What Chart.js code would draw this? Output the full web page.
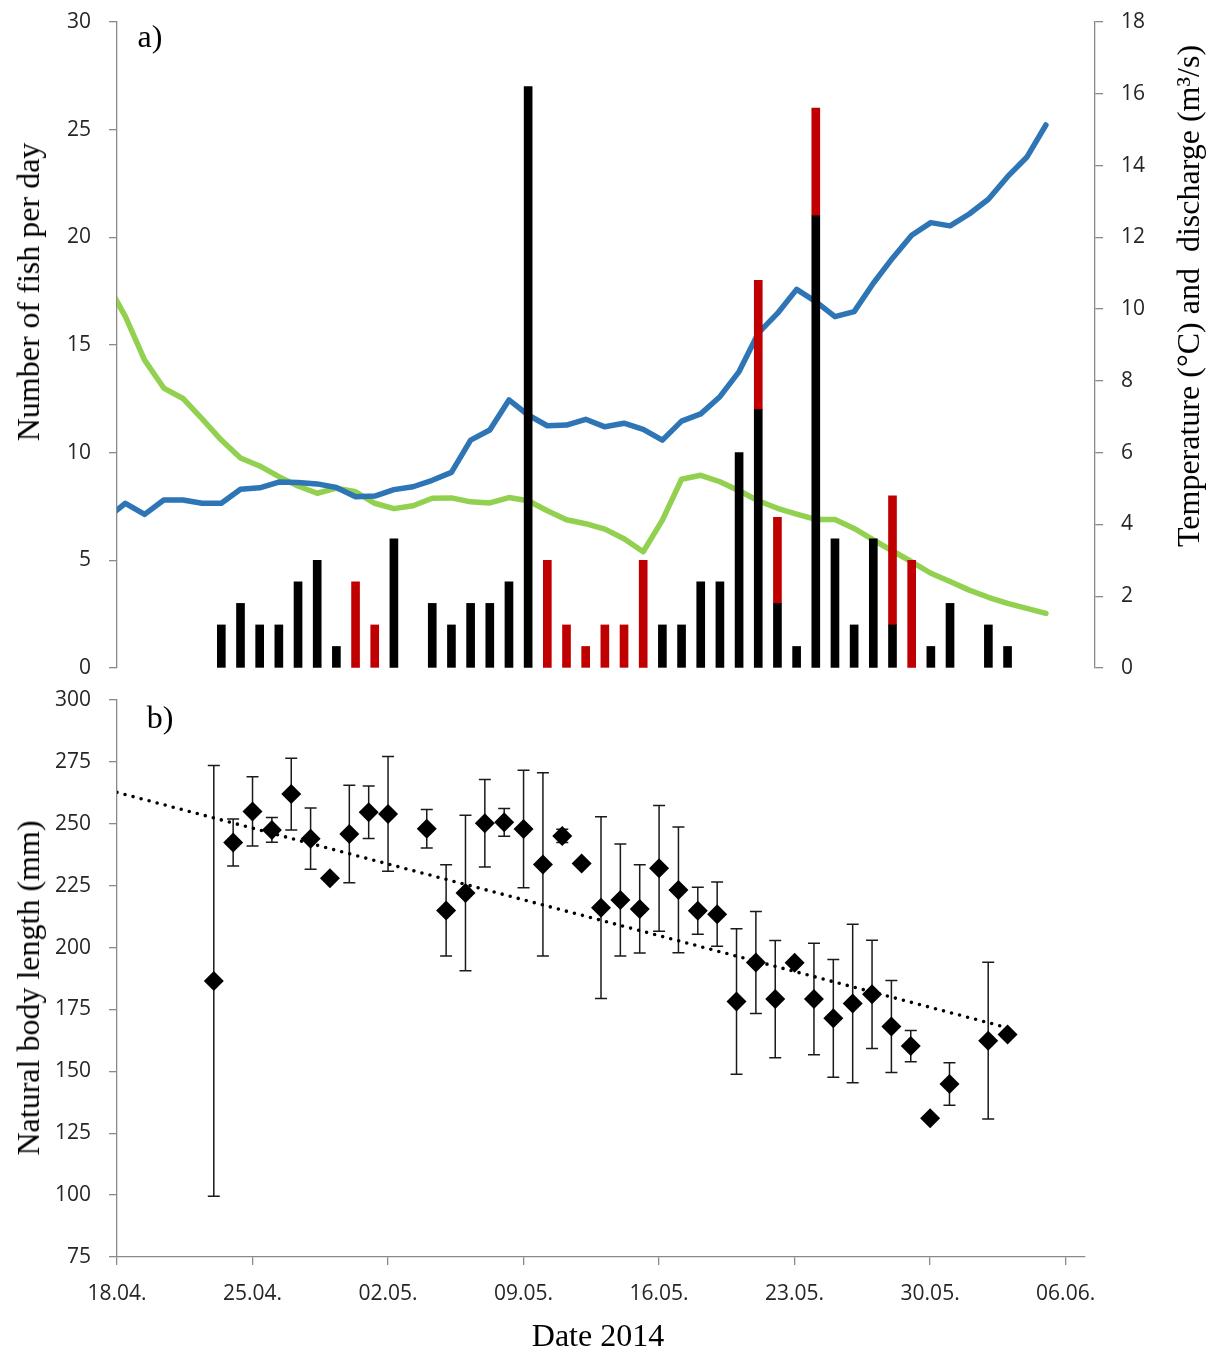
<!DOCTYPE html>
<html lang="en">
<head>
<meta charset="UTF-8">
<title>Fish per day and body length 2014</title>
<script src="https://cdn.jsdelivr.net/npm/chart.js"></script>
<style>
  body { margin: 0; background: #fff; }
  .wrap { position: relative; width: 1209px; height: 1349px; overflow: hidden; }
  canvas { position: absolute; left: 0; }
  #chartA { top: 0; }
  #chartB { top: 680px; }
  .lbl {
    position: absolute;
    font-family: "Liberation Serif", "Times New Roman", serif;
    font-size: 32px;
    line-height: 1;
    color: #000;
    white-space: nowrap;
    transform: translate(-50%, -50%);
  }
  .rot { transform: translate(-50%, -50%) rotate(-90deg); }
</style>
</head>
<body>
<div class="wrap">
  <canvas id="chartA" width="1209" height="680"></canvas>
  <canvas id="chartB" width="1209" height="669"></canvas>

  <div class="lbl" style="left:150px; top:36px;">a)</div>
  <div class="lbl" style="left:160px; top:717px;">b)</div>
  <div class="lbl rot" style="left:28px; top:292px;">Number of fish per day</div>
  <div class="lbl rot" style="left:1188px; top:296px;">Temperature (°C) and&nbsp; discharge (m³/s)</div>
  <div class="lbl rot" style="left:28px; top:988px;">Natural body length (mm)</div>
  <div class="lbl" style="left:598px; top:1335px;">Date 2014</div>
</div>

<script>
// ---- panel a: fish per day, temperature, discharge ----
// day index 0 = 18.04.2014
const lineStartDay = -1;   // 17.04.
const temperature = [4.17, 4.59, 4.28, 4.68, 4.68, 4.59, 4.59, 4.98, 5.02, 5.18,
  5.17, 5.13, 5.03, 4.77, 4.79, 4.97, 5.05, 5.23, 5.45, 6.35,
  6.63, 7.47, 7.05, 6.75, 6.77, 6.93, 6.72, 6.82, 6.65, 6.35,
  6.88, 7.08, 7.56, 8.26, 9.33, 9.88, 10.55, 10.21, 9.79, 9.93,
  10.72, 11.42, 12.06, 12.41, 12.32, 12.65, 13.06, 13.69, 14.23, 15.13];
const discharge = [10.75, 9.79, 8.58, 7.80, 7.51, 6.94, 6.35, 5.85, 5.63, 5.33,
  5.07, 4.87, 5.01, 4.91, 4.59, 4.44, 4.52, 4.73, 4.74, 4.63,
  4.60, 4.75, 4.66, 4.38, 4.13, 4.02, 3.87, 3.60, 3.24, 4.12,
  5.26, 5.37, 5.19, 4.94, 4.66, 4.45, 4.29, 4.14, 4.14, 3.89,
  3.57, 3.26, 2.96, 2.64, 2.41, 2.17, 1.97, 1.80, 1.66, 1.52];

const barStartDay = 5;     // 23.04.
const fishBlack = [2, 3, 2, 2, 4, 5, 1, 0, 0, 6, 0, 3, 2, 3, 3, 4, 27, 0, 0, 0,
  0, 0, 0, 2, 2, 4, 4, 10, 12, 3, 1, 21, 6, 2, 6, 2, 0, 1, 3, 0, 2, 1];
const fishRed = [0, 0, 0, 0, 0, 0, 0, 4, 2, 0, 0, 0, 0, 0, 0, 0, 0, 5, 2, 1,
  2, 2, 5, 0, 0, 0, 0, 0, 6, 4, 0, 5, 0, 0, 0, 6, 5, 0, 0, 0, 0, 0];

// ---- panel b: natural body length ----
const lenDays = [5, 6, 7, 8, 9, 10, 11, 12, 13, 14, 16, 17, 18, 19, 20, 21, 22, 23, 24, 25,
  26, 27, 28, 29, 30, 31, 32, 33, 34, 35, 36, 37, 38, 39, 40, 41, 42, 43, 45, 46];
const lenMean = [186.5, 242.4, 255.0, 247.5, 262.0, 244.0, 228.0, 245.9, 254.7, 254.0,
  248.0, 215.0, 222.0, 250.2, 250.6, 247.9, 233.6, 245.1, 234.0, 216.1,
  219.2, 215.6, 232.0, 223.3, 214.9, 213.5, 178.2, 194.0, 179.2, 193.9,
  179.2, 171.4, 177.4, 181.1, 168.1, 160.2, 131.0, 144.9, 162.4, 164.9];
const lenSd = [87, 9.5, 14, 5, 14.5, 12.4, 0, 19.7, 10.6, 23.2,
  7.8, 18.4, 31.4, 17.7, 5.6, 23.7, 37, 2.7, 0, 36.7,
  22.6, 17.8, 25.4, 25.4, 9.5, 13, 29.4, 20.6, 23.7, 0,
  22.5, 23.8, 32, 21.9, 18.6, 6.3, 0, 8.6, 31.7, 0];
const trendDays = [0, 46];
const trendLen = [262.7, 167.6];

const tickDays = [0, 7, 14, 21, 28, 35, 42, 49];
const tickLabels = ['18.04.', '25.04.', '02.05.', '09.05.', '16.05.', '23.05.', '30.05.', '06.06.'];

const tickFont = { family: 'Open Sans', size: 21 };
const tickColor = '#262626';
const axisGrey = '#8a8a8a';

const toPoints = (start, values) => values.map((v, i) => ({ x: start + i, y: v }));
// days without fish get no bar at all
const toBars = (start, values) => toPoints(start, values).filter(p => p.y > 0);

const axisGrid = { drawOnChartArea: false, color: axisGrey, tickLength: 8, lineWidth: 1.3 };
const axisBorder = { color: axisGrey, width: 1.3 };

// fix a scale's size and drop the label overhang so layout.padding sets the plot area
const fixWidth = w => scale => {
  scale.width = w;
  scale.paddingTop = 0; scale.paddingBottom = 0;
};
const fixHeight = h => scale => {
  scale.height = h;
  scale.paddingLeft = 0; scale.paddingRight = 0;
};

new Chart(document.getElementById('chartA'), {
  type: 'bar',
  data: {
    datasets: [
      {
        label: 'fish', data: toBars(barStartDay, fishBlack), yAxisID: 'y',
        backgroundColor: '#000000', barThickness: 8, order: 0
      },
      {
        label: 'fish (red)', data: toBars(barStartDay, fishRed), yAxisID: 'y',
        backgroundColor: '#C00000', barThickness: 8, order: 0
      },
      {
        type: 'line', label: 'Temperature', data: toPoints(lineStartDay, temperature), yAxisID: 'y2',
        borderColor: '#2E75B6', borderWidth: 5.5, pointRadius: 0, tension: 0,
        borderJoinStyle: 'round', borderCapStyle: 'round', order: 1
      },
      {
        type: 'line', label: 'Discharge', data: toPoints(lineStartDay, discharge), yAxisID: 'y2',
        borderColor: '#92D050', borderWidth: 5.5, pointRadius: 0, tension: 0,
        borderJoinStyle: 'round', borderCapStyle: 'round', order: 1
      }
    ]
  },
  options: {
    responsive: false,
    animation: false,
    layout: { padding: { top: 22, bottom: 12, left: 0, right: 0 } },
    plugins: { legend: { display: false }, tooltip: { enabled: false } },
    scales: {
      x: { type: 'linear', min: -0.44, max: 50.56, offset: false, stacked: true, display: false },
      y: {
        position: 'left', stacked: true, min: 0, max: 30,
        ticks: { stepSize: 5, font: tickFont, color: tickColor, padding: 18 },
        grid: axisGrid, border: axisBorder,
        afterFit: fixWidth(117)
      },
      y2: {
        position: 'right', min: 0, max: 18,
        ticks: { stepSize: 2, font: tickFont, color: tickColor, padding: 18 },
        grid: axisGrid, border: axisBorder,
        afterFit: fixWidth(114)
      }
    }
  }
});

// error bars drawn under the diamonds
const errorBars = {
  id: 'errorBars',
  beforeDatasetsDraw(chart) {
    const { ctx, scales: { x, y } } = chart;
    ctx.save();
    ctx.strokeStyle = '#1a1a1a';
    ctx.lineWidth = 1.5;
    lenDays.forEach((d, i) => {
      const sd = lenSd[i];
      if (!sd) return;
      const px = x.getPixelForValue(d);
      const top = y.getPixelForValue(lenMean[i] + sd);
      const bot = y.getPixelForValue(lenMean[i] - sd);
      ctx.beginPath();
      ctx.moveTo(px, top); ctx.lineTo(px, bot);
      ctx.moveTo(px - 6, top); ctx.lineTo(px + 6, top);
      ctx.moveTo(px - 6, bot); ctx.lineTo(px + 6, bot);
      ctx.stroke();
    });
    ctx.restore();
  }
};

new Chart(document.getElementById('chartB'), {
  type: 'scatter',
  data: {
    datasets: [
      {
        label: 'Natural body length', data: lenDays.map((d, i) => ({ x: d, y: lenMean[i] })),
        pointStyle: 'rectRot', pointRadius: 10, backgroundColor: '#000', borderColor: '#000',
        borderWidth: 0, order: 0
      },
      {
        type: 'line', label: 'trend', data: trendDays.map((d, i) => ({ x: d, y: trendLen[i] })),
        borderColor: '#000', borderWidth: 3.6, borderDash: [0, 8.3], borderCapStyle: 'round',
        pointRadius: 0, fill: false, order: 1
      }
    ]
  },
  options: {
    responsive: false,
    animation: false,
    layout: { padding: { top: 20, bottom: 0, left: 0, right: 124 } },
    plugins: { legend: { display: false }, tooltip: { enabled: false } },
    scales: {
      x: {
        type: 'linear', min: 0, max: 50,
        afterBuildTicks(scale) { scale.ticks = tickDays.map(v => ({ value: v })); },
        ticks: {
          font: tickFont, color: tickColor, padding: 16, maxRotation: 0,
          callback: v => tickLabels[tickDays.indexOf(v)]
        },
        grid: axisGrid, border: axisBorder,
        afterFit: fixHeight(92)
      },
      y: {
        min: 75, max: 300,
        ticks: { stepSize: 25, font: tickFont, color: tickColor, padding: 18 },
        grid: axisGrid, border: axisBorder,
        afterFit: fixWidth(117)
      }
    }
  },
  plugins: [errorBars]
});
</script>
</body>
</html>
